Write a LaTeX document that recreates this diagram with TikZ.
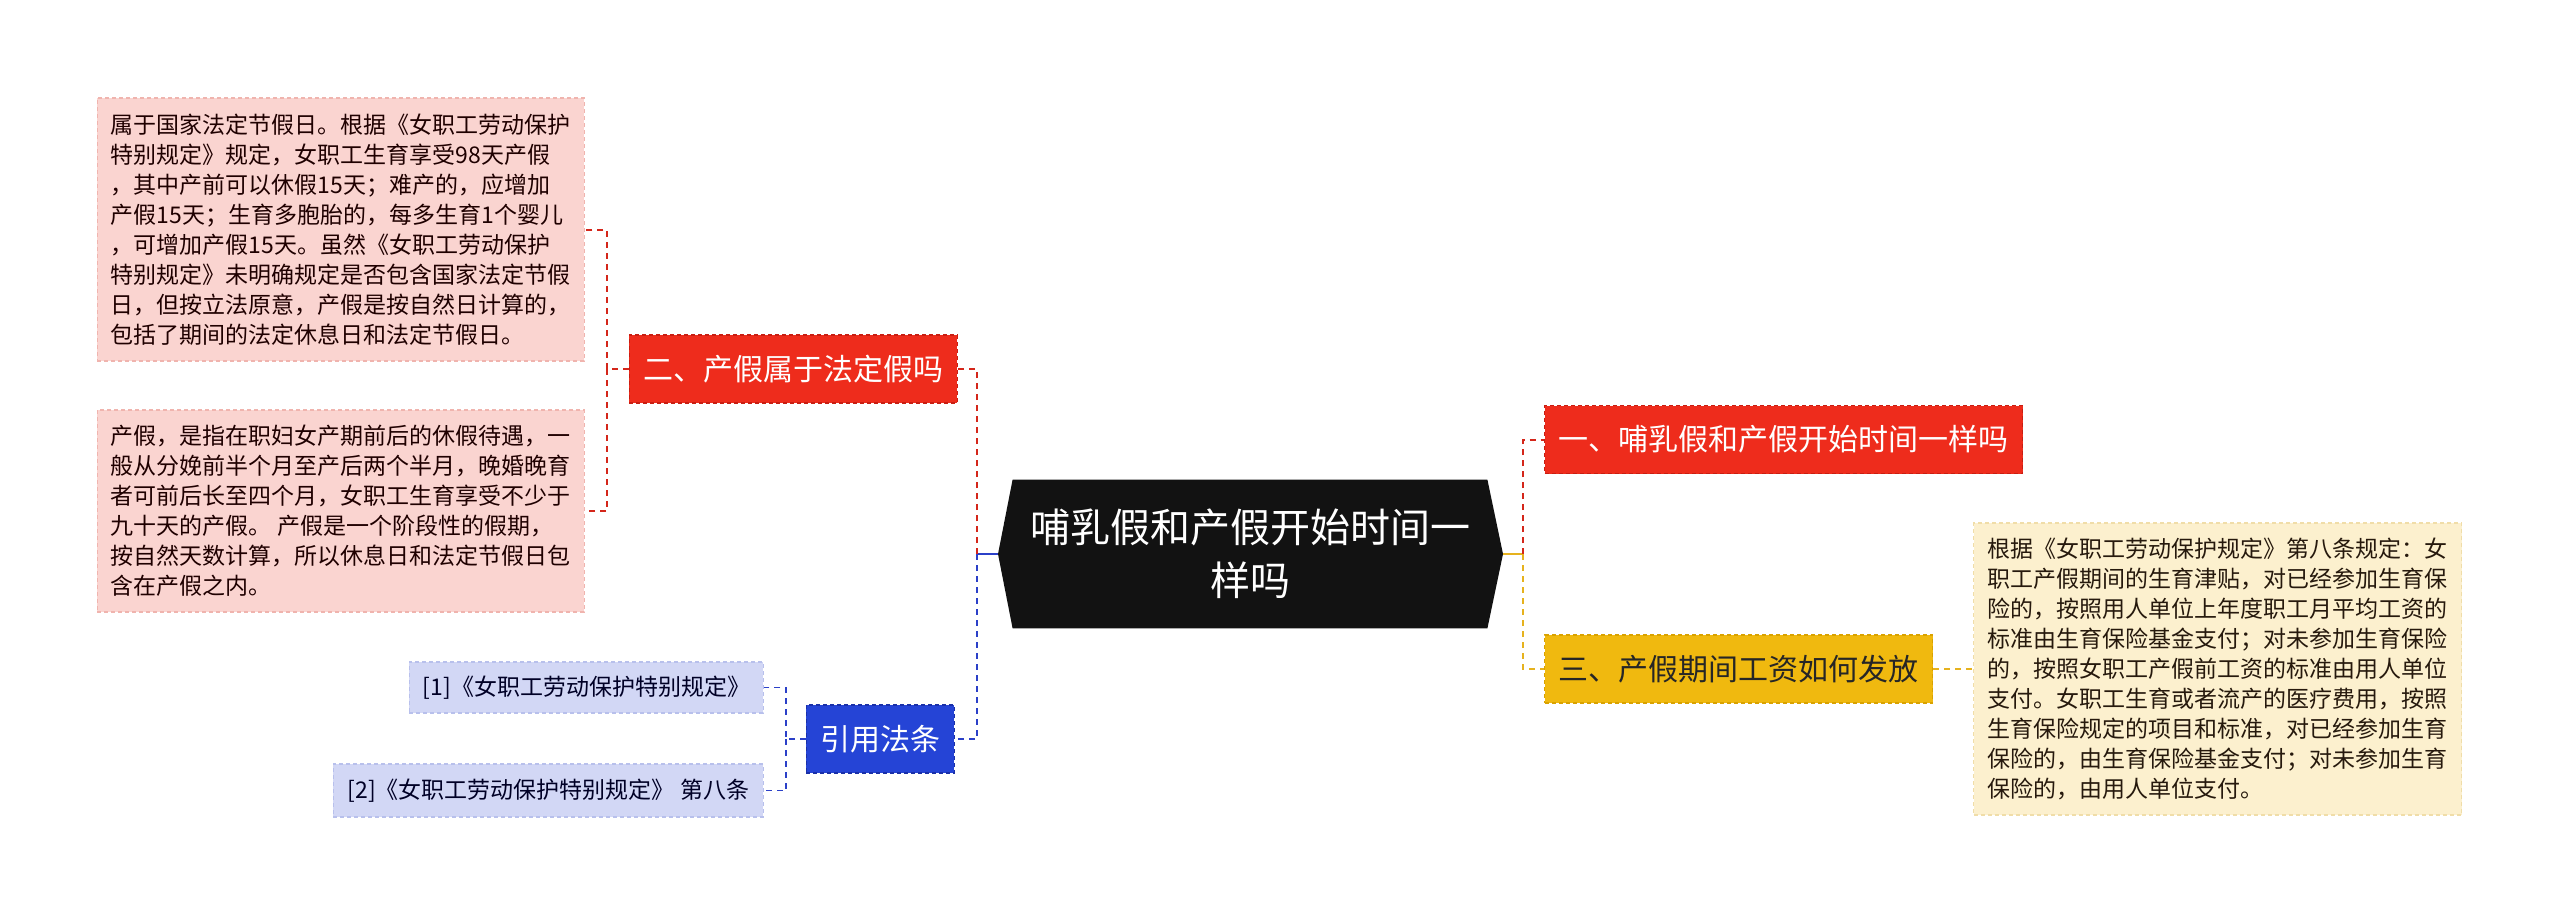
\documentclass[tikz,border=0pt]{standalone}
\usepackage{fontspec}
\setmainfont{Noto Sans CJK SC}
\usetikzlibrary{backgrounds}
\definecolor{hred}{HTML}{EE2C1C}
\definecolor{hredline}{HTML}{C81E12}
\definecolor{hpink}{HTML}{FAD4D0}
\definecolor{hpinkline}{HTML}{F0B4AE}
\definecolor{hblue}{HTML}{2544D6}
\definecolor{hblueline}{HTML}{1A30A8}
\definecolor{hlav}{HTML}{D2D7F5}
\definecolor{hlavline}{HTML}{B8C0EC}
\definecolor{hyel}{HTML}{F0B90F}
\definecolor{hyelline}{HTML}{D9A200}
\definecolor{hcream}{HTML}{FCF0CE}
\definecolor{hcreamline}{HTML}{F0DDA8}
\definecolor{lred}{HTML}{D4261A}
\definecolor{lblue}{HTML}{2B40C8}
\definecolor{lyel}{HTML}{E6B21E}

\begin{document}
\begin{tikzpicture}[x=0.5pt, y=-0.5pt,
    main/.style = {align=center, text=white, minimum width=237pt, minimum height=74pt,
        font=\fontsize{20}{26.5}\selectfont},
    branch/.style = {draw, line width=0.6pt, dash pattern=on 2pt off 1.5pt, inner xsep=7pt,
        inner ysep=0pt, minimum height=34pt, font=\fontsize{15}{18}\selectfont},
    redtopic/.style = {branch, fill=hred, draw=hredline, text=white},
    bluetopic/.style = {branch, fill=hblue, draw=hblueline, text=white},
    yeltopic/.style = {branch, fill=hyel, draw=hyelline, text=black!85},
    note/.style = {draw, line width=0.6pt, dash pattern=on 2pt off 1.5pt, align=left,
        inner sep=0pt, font=\fontsize{11.5}{15}\selectfont},
    rednote/.style = {note, fill=hpink, draw=hpinkline, text=black!80!red!60!black},
    ref/.style = {note, fill=hlav, draw=hlavline, text=black!85!blue},
    yelnote/.style = {note, fill=hcream, draw=hcreamline, text=black!80!brown},
    link/.style = {line width=1pt, dash pattern=on 3pt off 2.5pt}]

    \path[use as bounding box] (0,0) rectangle (2560,916);

    \node[main] (main) at (1250,554) {哺乳假和产假开始时间一\\样吗};
    \coordinate (ml) at (998,554);
    \coordinate (mr) at (1503,554);
    \coordinate (jl) at (977,554);
    \coordinate (jr) at (1523,554);

    \node[redtopic, anchor=west] (b1) at (1544,439.5) {一、哺乳假和产假开始时间一样吗};
    \node[yeltopic, anchor=west] (b3) at (1544,669) {三、产假期间工资如何发放};
    \node[redtopic, anchor=east] (b2) at (958,369) {二、产假属于法定假吗};
    \node[bluetopic, anchor=east] (b4) at (955,739) {引用法条};

    \node[rednote, anchor=east, minimum width=243.5pt, minimum height=131.5pt] (d1) at (585,229.5)
        {属于国家法定节假日。根据《女职工劳动保护\\
         特别规定》规定，女职工生育享受98天产假\\
         ，其中产前可以休假15天；难产的，应增加\\
         产假15天；生育多胞胎的，每多生育1个婴儿\\
         ，可增加产假15天。虽然《女职工劳动保护\\
         特别规定》未明确规定是否包含国家法定节假\\
         日，但按立法原意，产假是按自然日计算的，\\
         包括了期间的法定休息日和法定节假日。};
    \node[rednote, anchor=east, minimum width=243.5pt, minimum height=101pt] (d2) at (585,511)
        {产假，是指在职妇女产期前后的休假待遇，一\\
         般从分娩前半个月至产后两个半月，晚婚晚育\\
         者可前后长至四个月，女职工生育享受不少于\\
         九十天的产假。 产假是一个阶段性的假期，\\
         按自然天数计算，所以休息日和法定节假日包\\
         含在产假之内。};
    \node[yelnote, anchor=west, minimum width=244pt, minimum height=146pt] (d3) at (1973,669)
        {根据《女职工劳动保护规定》第八条规定：女\\
         职工产假期间的生育津贴，对已经参加生育保\\
         险的，按照用人单位上年度职工月平均工资的\\
         标准由生育保险基金支付；对未参加生育保险\\
         的，按照女职工产假前工资的标准由用人单位\\
         支付。女职工生育或者流产的医疗费用，按照\\
         生育保险规定的项目和标准，对已经参加生育\\
         保险的，由生育保险基金支付；对未参加生育\\
         保险的，由用人单位支付。};
    \node[ref, anchor=east, minimum width=177pt, minimum height=25.5pt] (r1) at (764,687.5)
        {[1]《女职工劳动保护特别规定》};
    \node[ref, anchor=east, minimum width=215pt, minimum height=26.5pt] (r2) at (764,790.5)
        {[2]《女职工劳动保护特别规定》 第八条};

    \coordinate (k2) at (607,369);
    \coordinate (k4) at (786,739);

    \begin{scope}[on background layer]
        \fill[white] (0,0) rectangle (2560,916);
        \fill[black!93] (main.north west) -- (main.north east) -- (mr) -- (main.south east)
            -- (main.south west) -- (ml) -- cycle;
    \end{scope}

    \draw[lblue, line width=1pt] (ml) -- (jl);
    \draw[lyel, line width=1pt] (mr) -- (jr);
    \draw[link, lred] (jl) |- (b2.east);
    \draw[link, lblue] (jl) |- (b4.east);
    \draw[link, lred] (jr) |- (b1.west);
    \draw[link, lyel] (jr) |- (b3.west);
    \draw[link, lred] (b2.west) -- (k2) |- (d1.east);
    \draw[link, lred] (k2) |- (d2.east);
    \draw[link, lblue, line width=0.8pt] (b4.west) -- (k4) |- (r1.east);
    \draw[link, lblue, line width=0.8pt] (k4) |- (r2.east);
    \draw[link, lyel] (b3.east) -- (d3.west);
\end{tikzpicture}
\end{document}
